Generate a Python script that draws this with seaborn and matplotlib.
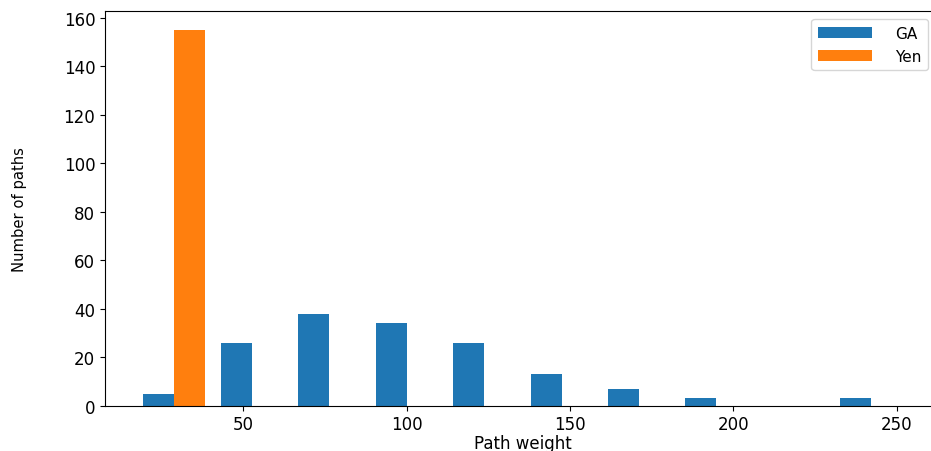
import matplotlib
matplotlib.use("Agg")
import matplotlib.pyplot as plt
import numpy as np
import pandas as pd
import seaborn as sns

# Histogram bins (centres of the 10 equal-width bins) and counts per method
bin_centers = [28.9, 52.6, 76.3, 100.0, 123.7, 147.4, 171.1, 194.8, 218.5, 242.2]
ga_counts = [5, 26, 38, 34, 26, 13, 7, 3, 0, 3]
yen_counts = [155, 0, 0, 0, 0, 0, 0, 0, 0, 0]
methods = ["GA", "Yen"]
colors = ["#1f77b4", "#ff7f0e"]

df = pd.DataFrame({
    "weight": bin_centers + bin_centers,
    "count": ga_counts + yen_counts,
    "method": [methods[0]] * len(bin_centers) + [methods[1]] * len(bin_centers),
})

W, H = 931, 452
fig = plt.figure(figsize=(W / 100, H / 100), dpi=100)
# axes extends past the right edge of the figure (cropped like the reference)
ax = fig.add_axes([105 / W, 45.3 / H, 860 / W, 394.7 / H])

sns.barplot(data=df, x="weight", y="count", hue="method", hue_order=methods,
            palette=colors, saturation=1, errorbar=None, native_scale=True,
            orient="x", width=0.8, dodge=True, linewidth=0, ax=ax)

ax.set_xlim(7.65, 7.65 + 860 / 3.267)
ax.tick_params(labelsize=12)
ax.set_xlabel("Path weight", fontsize=12, labelpad=0.5, x=(523 - 105) / 860)
ax.set_ylabel("Number of paths", fontsize=10.6)
ax.yaxis.set_label_coords((27 - 105) / 860, 0.5)

sns.move_legend(ax, "upper right", bbox_to_anchor=(928 / W, 1 - 20 / H),
                bbox_transform=fig.transFigure, title=None, frameon=True,
                fontsize=11, handlelength=3.5, handletextpad=1.5,
                borderpad=0.45, borderaxespad=0)

fig.savefig("out.png", dpi=100)
